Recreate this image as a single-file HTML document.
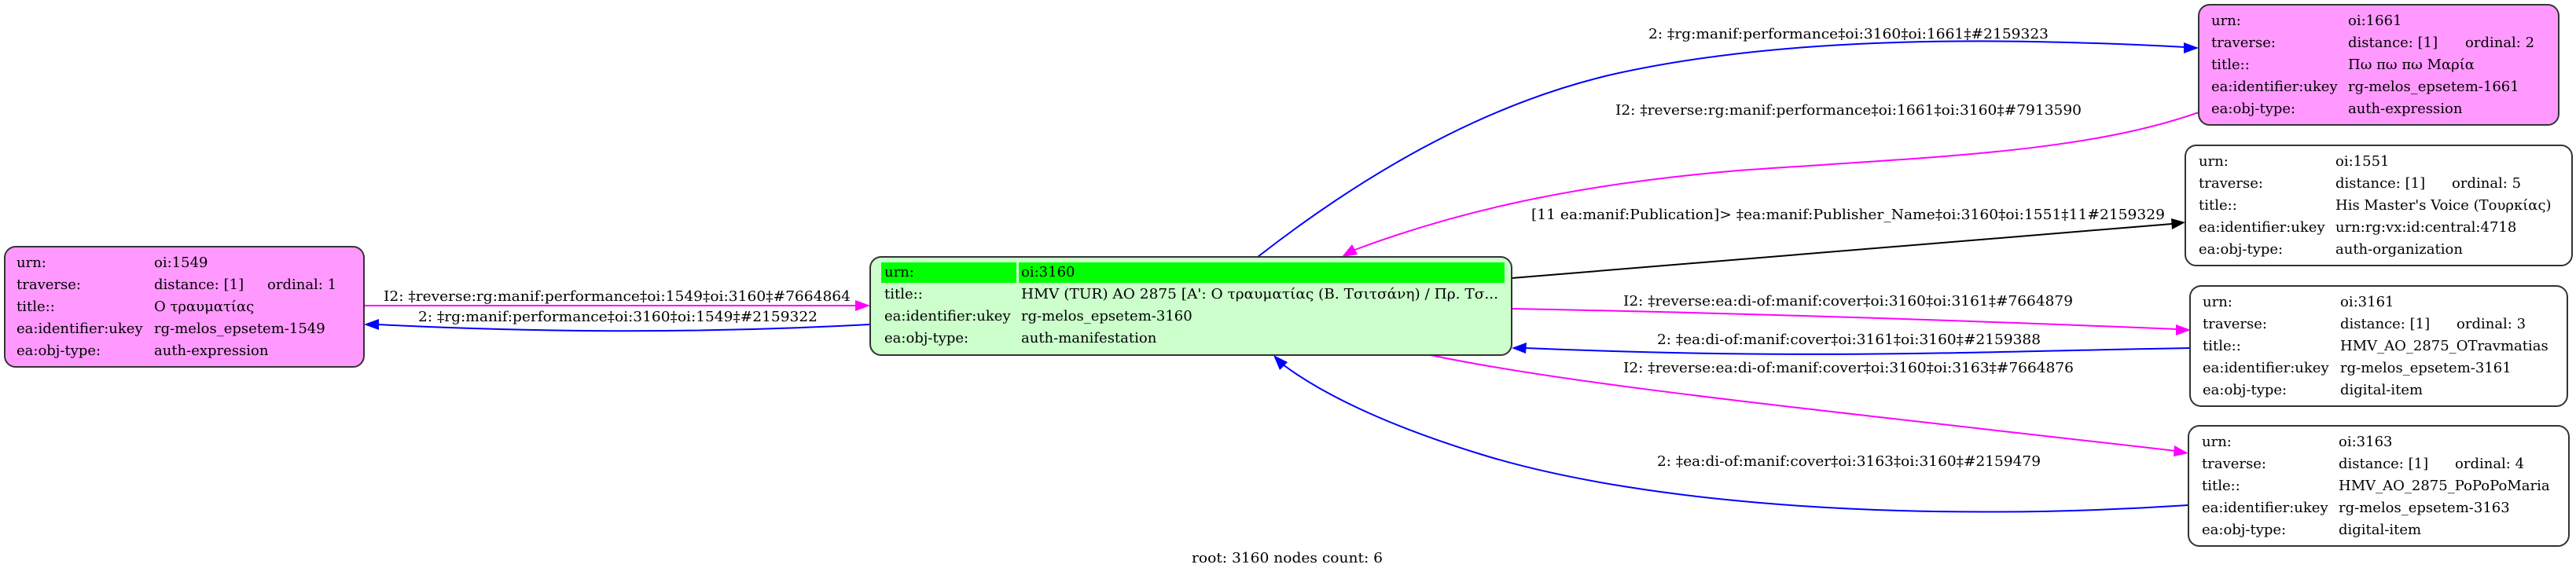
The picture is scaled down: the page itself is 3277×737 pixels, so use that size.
<!DOCTYPE html>
<html><head><meta charset="utf-8"><style>
html,body{margin:0;padding:0;background:#fff;}
svg text{font-family:"DejaVu Serif","Liberation Serif",serif;font-size:18px;fill:#000;}
</style></head><body>
<svg width="3277" height="732" viewBox="0 0 3277 732" xmlns="http://www.w3.org/2000/svg">
<defs>
<marker id="ab" viewBox="0 0 10 10" refX="10" refY="5" markerWidth="6" markerHeight="6" orient="auto-start-reverse" markerUnits="userSpaceOnUse"><path d="M0,0 L10,5 L0,10 z" fill="#0000ff"/></marker>
</defs>
<!-- edges -->
<g fill="none" stroke-width="2">
<!-- left -->
<path d="M463,389 L1090,389" stroke="#ff00ff"/>
<polygon points="1107,389 1088,382 1088,396" fill="#ff00ff"/>
<path d="M1107,413 C900,424 700,424 480,413" stroke="#0000ff"/>
<polygon points="463,413 482,406 482,420" fill="#0000ff"/>
<!-- 3160 -> 1661 -->
<path d="M1600,327 C1750,210 1900,130 2050,95 C2250,50 2500,45 2780,60" stroke="#0000ff"/>
<polygon points="2797,61 2778,54 2778,68" fill="#0000ff"/>
<!-- 1661 -> 3160 -->
<path d="M2797,143 C2650,195 2450,200 2212,217 C2000,235 1850,270 1718,320" stroke="#ff00ff"/>
<polygon points="1707,327 1720,311 1727,324" fill="#ff00ff"/>
<!-- 3160 -> 1551 -->
<path d="M1923,354 L2763,285" stroke="#000"/>
<polygon points="2780,283 2762,278 2763,292" fill="#000"/>
<!-- 3160 -> 3161 -->
<path d="M1923,393 C2200,398 2500,408 2770,419" stroke="#ff00ff"/>
<polygon points="2787,420 2768,413 2768,427" fill="#ff00ff"/>
<!-- 3161 -> 3160 -->
<path d="M2786,443 C2500,448 2300,458 1940,443" stroke="#0000ff"/>
<polygon points="1923,443 1942,436 1941,450" fill="#0000ff"/>
<!-- 3160 -> 3163 -->
<path d="M1820,452 C2000,490 2300,520 2768,574" stroke="#ff00ff"/>
<polygon points="2784,577 2766,567 2765,581" fill="#ff00ff"/>
<!-- 3163 -> 3160 -->
<path d="M2784,643 C2450,665 2100,645 1883,578 C1760,540 1680,500 1632,464" stroke="#0000ff"/>
<polygon points="1620,452 1628,471 1638,461" fill="#0000ff"/>
</g>
<!-- edge labels -->
<text x="488" y="383" textLength="594" lengthAdjust="spacingAndGlyphs">I2: ‡reverse:rg:manif:performance‡oi:1549‡oi:3160‡#7664864</text>
<text x="532" y="409" textLength="508" lengthAdjust="spacingAndGlyphs">2: ‡rg:manif:performance‡oi:3160‡oi:1549‡#2159322</text>
<text x="2097" y="49" textLength="509" lengthAdjust="spacingAndGlyphs">2: ‡rg:manif:performance‡oi:3160‡oi:1661‡#2159323</text>
<text x="2055" y="146" textLength="593" lengthAdjust="spacingAndGlyphs">I2: ‡reverse:rg:manif:performance‡oi:1661‡oi:3160‡#7913590</text>
<text x="1948" y="279" textLength="806" lengthAdjust="spacingAndGlyphs">[11 ea:manif:Publication]&gt; ‡ea:manif:Publisher_Name‡oi:3160‡oi:1551‡11#2159329</text>
<text x="2065" y="389" textLength="572" lengthAdjust="spacingAndGlyphs">I2: ‡reverse:ea:di-of:manif:cover‡oi:3160‡oi:3161‡#7664879</text>
<text x="2108" y="438" textLength="488" lengthAdjust="spacingAndGlyphs">2: ‡ea:di-of:manif:cover‡oi:3161‡oi:3160‡#2159388</text>
<text x="2065" y="474" textLength="573" lengthAdjust="spacingAndGlyphs">I2: ‡reverse:ea:di-of:manif:cover‡oi:3160‡oi:3163‡#7664876</text>
<text x="2108" y="593" textLength="488" lengthAdjust="spacingAndGlyphs">2: ‡ea:di-of:manif:cover‡oi:3163‡oi:3160‡#2159479</text>

<!-- node 1549 -->
<rect x="6" y="314" width="457" height="153" rx="14" fill="#ff99ff" stroke="#333" stroke-width="2"/>
<g>
<text x="21" y="340">urn:</text><text x="196" y="340">oi:1549</text>
<text x="21" y="368">traverse:</text><text x="196" y="368">distance: [1]</text><text x="340" y="368">ordinal: 1</text>
<text x="21" y="396">title::</text><text x="196" y="396">Ο τραυματίας</text>
<text x="21" y="424">ea:identifier:ukey</text><text x="196" y="424">rg-melos_epsetem-1549</text>
<text x="21" y="452">ea:obj-type:</text><text x="196" y="452">auth-expression</text>
</g>

<!-- center node 3160 -->
<rect x="1107" y="327" width="816" height="125" rx="14" fill="#ccffcc" stroke="#333" stroke-width="2"/>
<rect x="1121" y="334" width="172" height="26" fill="#00ff00"/>
<rect x="1296" y="334" width="618" height="26" fill="#00ff00"/>
<text x="1125" y="352">urn:</text><text x="1299" y="352">oi:3160</text>
<text x="1125" y="380">title::</text><text x="1299" y="380" textLength="607" lengthAdjust="spacingAndGlyphs">HMV (TUR) AO 2875 [A': Ο τραυματίας (Β. Τσιτσάνη) / Πρ. Τσ...</text>
<text x="1125" y="408">ea:identifier:ukey</text><text x="1299" y="408">rg-melos_epsetem-3160</text>
<text x="1125" y="436">ea:obj-type:</text><text x="1299" y="436">auth-manifestation</text>

<!-- node 1661 -->
<rect x="2797" y="6" width="458" height="153" rx="14" fill="#ff99ff" stroke="#333" stroke-width="2"/>
<text x="2813" y="32">urn:</text><text x="2987" y="32">oi:1661</text>
<text x="2813" y="60">traverse:</text><text x="2987" y="60">distance: [1]</text><text x="3136" y="60">ordinal: 2</text>
<text x="2813" y="88">title::</text><text x="2987" y="88">Πω πω πω Μαρία</text>
<text x="2813" y="116">ea:identifier:ukey</text><text x="2987" y="116">rg-melos_epsetem-1661</text>
<text x="2813" y="144">ea:obj-type:</text><text x="2987" y="144">auth-expression</text>

<!-- node 1551 -->
<rect x="2780" y="185" width="492" height="153" rx="14" fill="#fff" stroke="#333" stroke-width="2"/>
<text x="2797" y="211">urn:</text><text x="2971" y="211">oi:1551</text>
<text x="2797" y="239">traverse:</text><text x="2971" y="239">distance: [1]</text><text x="3119" y="239">ordinal: 5</text>
<text x="2797" y="267">title::</text><text x="2971" y="267">His Master's Voice (Τουρκίας)</text>
<text x="2797" y="295">ea:identifier:ukey</text><text x="2971" y="295">urn:rg:vx:id:central:4718</text>
<text x="2797" y="323">ea:obj-type:</text><text x="2971" y="323">auth-organization</text>

<!-- node 3161 -->
<rect x="2786" y="364" width="480" height="153" rx="14" fill="#fff" stroke="#333" stroke-width="2"/>
<text x="2802" y="390">urn:</text><text x="2977" y="390">oi:3161</text>
<text x="2802" y="418">traverse:</text><text x="2977" y="418">distance: [1]</text><text x="3125" y="418">ordinal: 3</text>
<text x="2802" y="446">title::</text><text x="2977" y="446">HMV_AO_2875_OTravmatias</text>
<text x="2802" y="474">ea:identifier:ukey</text><text x="2977" y="474">rg-melos_epsetem-3161</text>
<text x="2802" y="502">ea:obj-type:</text><text x="2977" y="502">digital-item</text>

<!-- node 3163 -->
<rect x="2784" y="542" width="484" height="153" rx="14" fill="#fff" stroke="#333" stroke-width="2"/>
<text x="2801" y="568">urn:</text><text x="2975" y="568">oi:3163</text>
<text x="2801" y="596">traverse:</text><text x="2975" y="596">distance: [1]</text><text x="3123" y="596">ordinal: 4</text>
<text x="2801" y="624">title::</text><text x="2975" y="624">HMV_AO_2875_PoPoPoMaria</text>
<text x="2801" y="652">ea:identifier:ukey</text><text x="2975" y="652">rg-melos_epsetem-3163</text>
<text x="2801" y="680">ea:obj-type:</text><text x="2975" y="680">digital-item</text>

<text x="1516" y="716" textLength="243" lengthAdjust="spacingAndGlyphs">root: 3160 nodes count: 6</text>
</svg>
</body></html>
